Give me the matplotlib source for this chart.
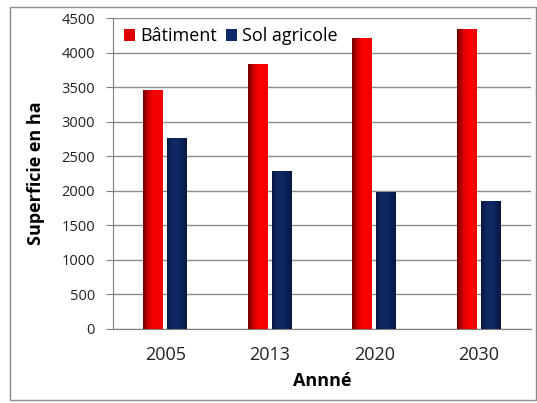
import numpy as np
import matplotlib.pyplot as plt
from matplotlib.patches import Rectangle
from matplotlib.colors import LinearSegmentedColormap

# data
years = ['2005', '2013', '2020', '2030']
batiment = [3450, 3830, 4200, 4330]
sol_agricole = [2750, 2280, 1970, 1840]

plt.rcParams['font.family'] = ['Open Sans', 'DejaVu Sans']

fig = plt.figure(figsize=(5.37, 4.03), dpi=100)
fig.patches.append(Rectangle((10 / 537, 3 / 403), 526 / 537, 393 / 403,
                             transform=fig.transFigure, fill=False,
                             edgecolor='#8c8c8c', linewidth=1))
ax = fig.add_axes([113 / 537, 74 / 403, 418 / 537, 311 / 403])

x = np.arange(len(years))
w = 0.19
off = 0.115

red_cmap = LinearSegmentedColormap.from_list('r', ['#700000', '#c80000', '#f40000', '#ff0000', '#e80000'])
blue_cmap = LinearSegmentedColormap.from_list('b', ['#081844', '#0e2660', '#102a66', '#0b2258', '#071640'])
grad = np.linspace(0, 1, 64).reshape(1, -1)


def gradient_bars(xs, heights, cmap, label, color):
    bars = ax.bar(xs, heights, w, color=color, label=label, zorder=2)
    for b in bars:
        x0, y0 = b.get_x(), b.get_y()
        ax.imshow(grad, cmap=cmap, aspect='auto', zorder=3,
                  extent=(x0, x0 + b.get_width(), y0, y0 + b.get_height()))
    return bars


gradient_bars(x - off, batiment, red_cmap, 'Bâtiment', '#e00000')
gradient_bars(x + off, sol_agricole, blue_cmap, 'Sol agricole', '#0f2a68')

ax.set_xlim(-0.5, len(years) - 0.5)
ax.set_ylim(0, 4500)
ax.set_yticks(range(0, 4501, 500))
ax.set_xticks(x)
ax.set_xticklabels(years)
ax.yaxis.grid(True, color='#8c8c8c', linewidth=1, zorder=0)
ax.set_axisbelow(True)
for s in ['top', 'right']:
    ax.spines[s].set_visible(False)
ax.spines['left'].set_color('#7f7f7f')
ax.spines['bottom'].set_color('#7f7f7f')
ax.tick_params(axis='y', length=5, color='#7f7f7f', labelsize=10.5, labelcolor='#222222', pad=8)
ax.tick_params(axis='x', length=0, labelsize=13, labelcolor='#222222', pad=12)

ax.set_xlabel('Annné', fontsize=13, fontweight='bold', labelpad=6)
ax.set_ylabel('Superficie en ha', fontsize=13, fontweight='bold', labelpad=12)

ax.legend(loc='upper left', ncol=2, frameon=False, fontsize=13,
          handlelength=0.6, handleheight=0.6, handletextpad=0.3,
          columnspacing=0.5, borderaxespad=0.2, bbox_to_anchor=(0.0, 1.005))

fig.savefig('out.png', dpi=100)
